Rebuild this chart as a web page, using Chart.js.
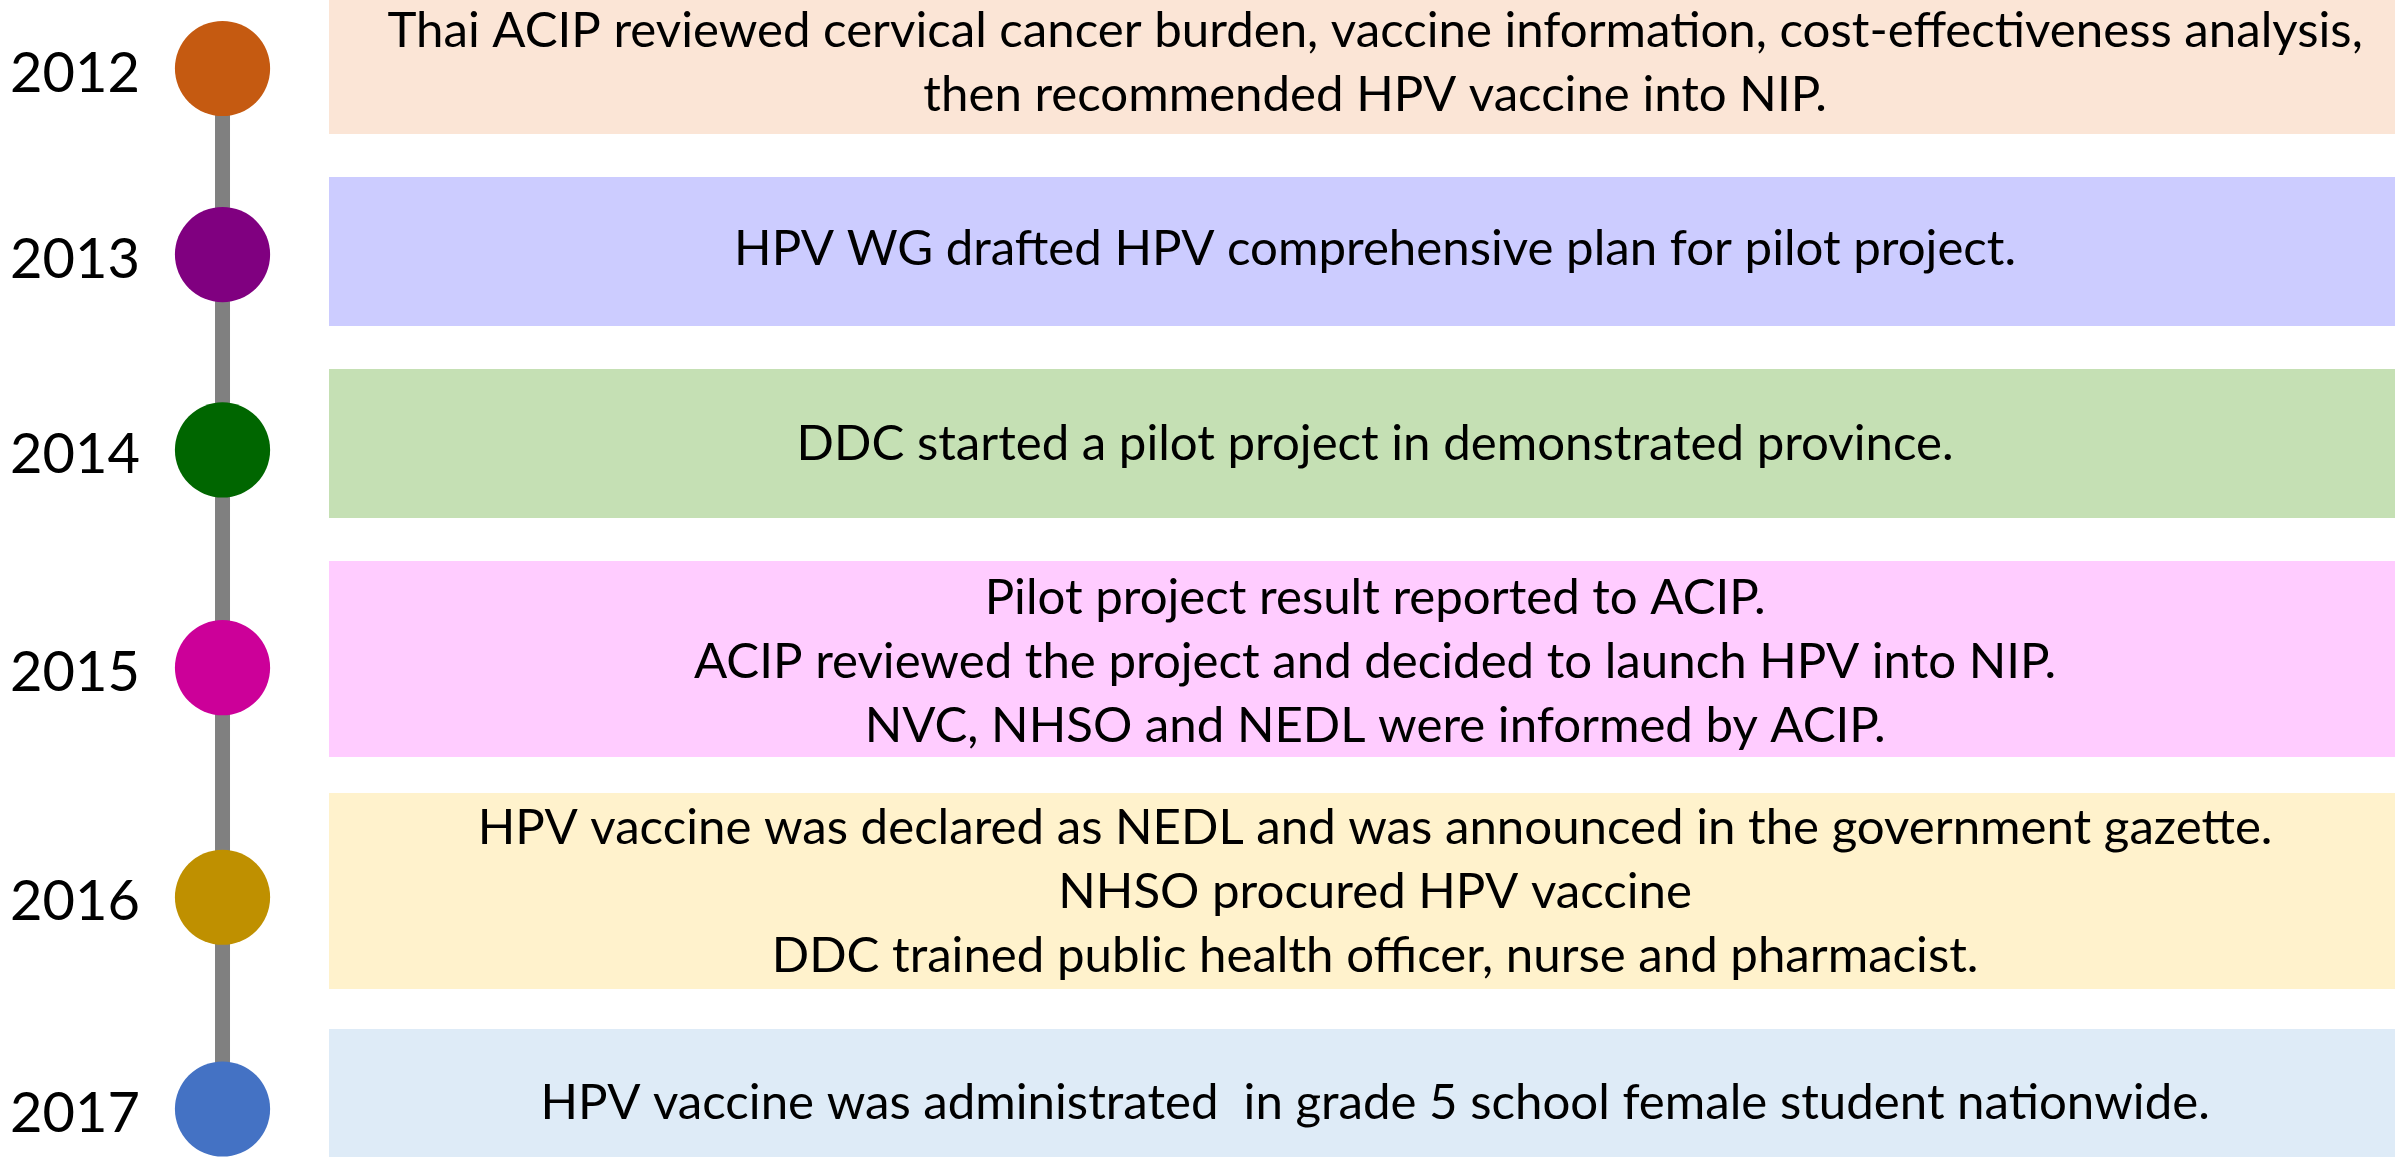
<!DOCTYPE html>
<html><head><meta charset="utf-8">
<script src="https://cdn.jsdelivr.net/npm/chart.js@4.4.0/dist/chart.umd.min.js"></script>
<style>html,body{margin:0;padding:0;background:#fff;overflow:hidden}canvas{display:block}</style>
</head><body>
<canvas id="c" width="2395" height="1157"></canvas>
<script>
// ---- data ----
const years = ['2012', '2013', '2014', '2015', '2016', '2017'];
// position of each milestone along the timeline (0 = top, 100 = bottom)
const milestonePos = [5.92, 22.0, 38.89, 57.71, 77.55, 95.85];
// vertical extent of each event band on the same scale
const boxTop = [0, 15.30, 31.89, 48.49, 68.54, 88.94];
const boxBottom = [11.58, 28.18, 44.77, 65.43, 85.48, 100];
const events = [
  ['Thai ACIP reviewed cervical cancer burden, vaccine information, cost-effectiveness analysis,',
   'then recommended HPV vaccine into NIP.'],
  ['HPV WG drafted HPV comprehensive plan for pilot project.'],
  ['DDC started a pilot project in demonstrated province.'],
  ['Pilot project result reported to ACIP.',
   'ACIP reviewed the project and decided to launch HPV into NIP.',
   'NVC, NHSO and NEDL were informed by ACIP.'],
  ['HPV vaccine was declared as NEDL and was announced in the government gazette.',
   'NHSO procured HPV vaccine',
   'DDC trained public health officer, nurse and pharmacist.'],
  ['HPV vaccine was administrated  in grade 5 school female student nationwide.']
];
const dotColors = ['#C55A11', '#800080', '#006600', '#CC0099', '#BF9000', '#4472C4'];
const boxColors = ['#FBE5D6', '#CCCCFF', '#C5E0B4', '#FFCCFF', '#FFF2CC', '#DEEBF7'];

// ---- layout constants (x axis runs 0..100 across the plot area) ----
const LINE_X = 3.23;     // timeline x
const BOX_LEFT = 7.97;   // left edge of event bands
const BOX_RIGHT = 100;
const TEXT_X = 54.57;    // centre of event text
const FONT = 'Lato, "Open Sans", sans-serif';

// text sizing
const mc = document.createElement('canvas').getContext('2d');
mc.font = '100px ' + FONT;
const wRef = mc.measureText(events[0][0]).width;
const TEXT_SIZE = Math.min(50, 100 * 1976 / wRef);
mc.font = TEXT_SIZE + 'px ' + FONT;
const CAP = mc.measureText('H').actualBoundingBoxAscent || TEXT_SIZE * 0.72;
const LINE_H = 64;
const TEXT_SHIFT = -7;

const datasets = [];
events.forEach((_, i) => {
  datasets.push({
    type: 'line',
    data: [{x: BOX_LEFT, y: boxTop[i]}, {x: BOX_RIGHT, y: boxTop[i]}],
    borderWidth: 0,
    borderColor: 'rgba(0,0,0,0)',
    backgroundColor: boxColors[i],
    fill: {value: boxBottom[i]},
    pointRadius: 0,
    order: 3
  });
});
datasets.push({
  type: 'line',
  data: milestonePos.map(p => ({x: LINE_X, y: p})),
  borderColor: '#808080',
  borderWidth: 15,
  borderCapStyle: 'butt',
  pointRadius: 0,
  fill: false,
  order: 2
});
datasets.push({
  type: 'scatter',
  data: milestonePos.map(p => ({x: LINE_X, y: p})),
  pointRadius: 47.6,
  pointHoverRadius: 47.6,
  pointBorderWidth: 0,
  pointBackgroundColor: dotColors,
  backgroundColor: dotColors,
  clip: false,
  order: 1
});

const eventTextPlugin = {
  id: 'eventText',
  afterDatasetsDraw(chart) {
    const {ctx, scales: {x, y}} = chart;
    ctx.save();
    ctx.fillStyle = '#000';
    ctx.textAlign = 'center';
    ctx.textBaseline = 'alphabetic';
    ctx.font = TEXT_SIZE + 'px ' + FONT;
    const cx = x.getPixelForValue(TEXT_X);
    events.forEach((lines, i) => {
      const cy = y.getPixelForValue(milestonePos[i]) + TEXT_SHIFT;
      lines.forEach((ln, k) => {
        const base = cy + (k - (lines.length - 1) / 2) * LINE_H + CAP / 2;
        ctx.fillText(ln, cx, base);
      });
    });
    ctx.restore();
  }
};

new Chart(document.getElementById('c'), {
  type: 'line',
  data: {datasets},
  plugins: [eventTextPlugin],
  options: {
    responsive: false,
    devicePixelRatio: 1,
    animation: false,
    events: [],
    layout: {padding: 0, autoPadding: false},
    plugins: {legend: {display: false}, tooltip: {enabled: false}},
    scales: {
      x: {type: 'linear', min: 0, max: 100, display: false},
      y: {
        type: 'linear', min: 0, max: 100, reverse: true,
        grid: {display: false, drawTicks: false},
        border: {display: false},
        afterBuildTicks: s => { s.ticks = milestonePos.map(v => ({value: v})); },
        afterFit: s => { s.width = 150; s.paddingTop = 0; s.paddingBottom = 0; },
        ticks: {
          autoSkip: false,
          padding: 10,
          labelOffset: 5,
          color: '#000',
          font: {family: FONT, size: 56},
          callback: (v, i) => years[i]
        }
      }
    }
  }
});
</script>
</body></html>
